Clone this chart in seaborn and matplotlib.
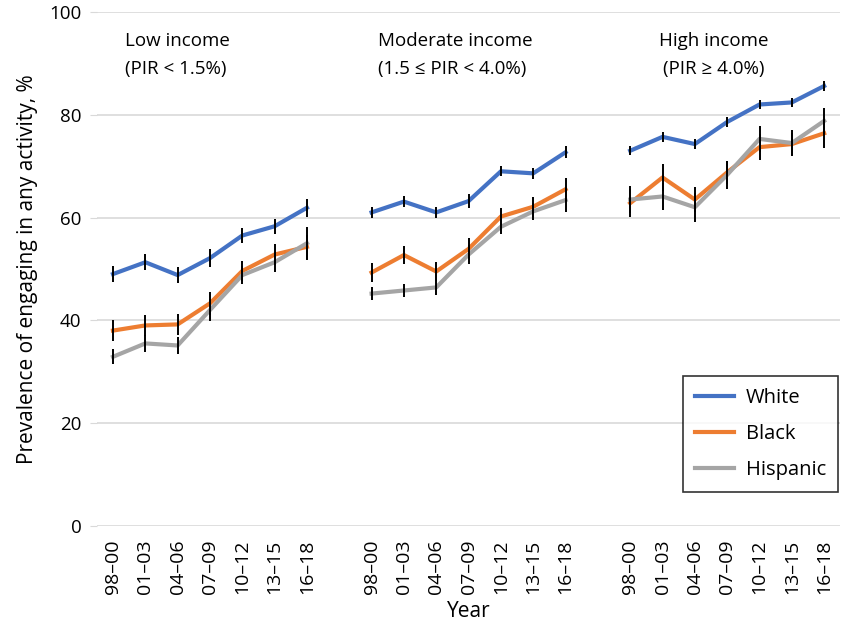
import matplotlib

matplotlib.use("Agg")
import matplotlib.pyplot as plt
import numpy as np
import pandas as pd
import seaborn as sns

periods = ["98–00", "01–03", "04–06", "07–09", "10–12", "13–15", "16–18"]
income_groups = ["Low", "Moderate", "High"]
group_titles = [
    "Low income\n(PIR < 1.5%)",
    "Moderate income\n(1.5 ≤ PIR < 4.0%)",
    "High income\n(PIR ≥ 4.0%)",
]
races = ["White", "Black", "Hispanic"]

# prevalence, %, per income group (low, moderate, high), 7 periods each
white = [
    [49.0, 51.3, 48.8, 52.1, 56.5, 58.3, 61.9],
    [61.0, 63.1, 61.0, 63.2, 69.0, 68.6, 72.7],
    [73.0, 75.7, 74.3, 78.6, 82.0, 82.4, 85.6],
]
black = [
    [38.0, 39.0, 39.2, 43.3, 49.6, 52.8, 54.3],
    [49.3, 52.7, 49.5, 53.9, 60.2, 62.1, 65.5],
    [62.8, 67.8, 63.5, 68.8, 73.7, 74.3, 76.4],
]
hispanic = [
    [32.9, 35.5, 35.1, 42.0, 48.8, 51.3, 55.0],
    [45.2, 45.8, 46.4, 52.8, 58.2, 61.2, 63.4],
    [63.5, 64.1, 62.0, 68.3, 75.3, 74.5, 78.8],
]
# half-width of the error bars
white_err = [
    [1.5, 1.6, 1.5, 1.7, 1.5, 1.5, 1.8],
    [1.0, 1.1, 1.0, 1.3, 1.0, 1.1, 1.2],
    [0.9, 1.0, 0.9, 1.0, 0.9, 0.8, 0.9],
]
black_err = [
    [2.0, 2.0, 2.1, 2.2, 2.0, 2.1, 2.3],
    [1.8, 1.8, 1.9, 2.2, 1.7, 1.9, 2.2],
    [2.7, 2.6, 2.5, 2.2, 2.5, 2.2, 2.8],
]
hispanic_err = [
    [1.5, 1.6, 1.7, 2.2, 1.7, 1.9, 3.2],
    [1.2, 1.3, 1.4, 1.9, 1.5, 1.6, 2.3],
    [2.7, 2.6, 2.8, 2.7, 2.5, 2.5, 2.5],
]

colors = {"White": "#4472C4", "Black": "#ED7D31", "Hispanic": "#A5A5A5"}

rows = []
for race, values, errs in [
    ("White", white, white_err),
    ("Black", black, black_err),
    ("Hispanic", hispanic, hispanic_err),
]:
    for g, group in enumerate(income_groups):
        for p, period in enumerate(periods):
            rows.append(
                {
                    "race": race,
                    "income": group,
                    "period": period,
                    "pos": g * (len(periods) + 1) + p,
                    "value": values[g][p],
                    "err": errs[g][p],
                }
            )
df = pd.DataFrame(rows)

plt.rcParams["font.family"] = ["Open Sans", "DejaVu Sans"]
fig = plt.figure(figsize=(8.42, 6.32), dpi=100)
ax = fig.add_axes([0.115, 0.168, 0.883, 0.813])

sns.lineplot(
    data=df,
    x="pos",
    y="value",
    hue="race",
    units="income",
    estimator=None,
    palette=colors,
    hue_order=races,
    linewidth=3,
    ax=ax,
    zorder=3,
)
ax.vlines(
    df["pos"],
    df["value"] - df["err"],
    df["value"] + df["err"],
    color="black",
    linewidth=1.4,
    zorder=4,
)

ax.set_ylim(0, 100)
ax.set_yticks(range(0, 101, 20))
ax.set_xlim(-0.5, 3 * len(periods) + 1.5)
ticks = df.drop_duplicates("pos")
ax.set_xticks(ticks["pos"])
ax.set_xticklabels(ticks["period"], rotation=90, fontsize=14)
ax.tick_params(axis="y", labelsize=13.5, length=5, color="#d9d9d9", pad=6)
ax.tick_params(axis="x", length=0, pad=10)
ax.grid(axis="y", color="#d9d9d9", linewidth=1.2)
ax.set_axisbelow(True)
for spine in ax.spines.values():
    spine.set_visible(False)

ax.set_xlabel("Year", fontsize=15, labelpad=5)
ax.set_ylabel("Prevalence of engaging in any activity, %", fontsize=15, labelpad=8)

title_x = [0.37, 8.2, 18.57]
aligns = ["left", "left", "center"]
for x, title, ha in zip(title_x, group_titles, aligns):
    ax.text(x, 91.6, title, ha=ha, va="center", fontsize=13.5, linespacing=1.7)

handles, labels = ax.get_legend_handles_labels()
leg = ax.legend(
    handles,
    labels,
    loc="lower right",
    bbox_to_anchor=(0.997, 0.066),
    borderaxespad=0,
    fontsize=14.5,
    frameon=True,
    fancybox=False,
    edgecolor="black",
    handlelength=1.9,
    handletextpad=0.6,
    labelspacing=0.8,
    borderpad=0.6,
)
leg.get_frame().set_linewidth(1.2)

fig.savefig("out.png", dpi=100)
